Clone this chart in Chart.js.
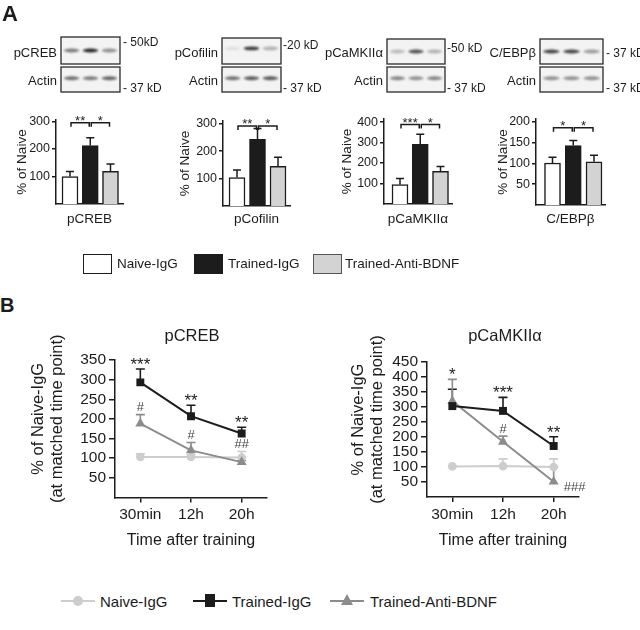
<!DOCTYPE html>
<html>
<head>
<meta charset="utf-8">
<script src="https://cdn.jsdelivr.net/npm/chart.js@4.4.0/dist/chart.umd.min.js"></script>
<style>
body{margin:0;background:#fff;}
#fig{position:relative;width:640px;height:630px;overflow:hidden;font-family:"Liberation Sans",Arial,sans-serif;color:#1c1c1c;}
.t{position:absolute;white-space:nowrap;line-height:1;}
canvas{position:absolute;}
.box{position:absolute;width:27px;height:18px;border:1.5px solid #1c1c1c;}
</style>
</head>
<body>
<div id="fig"></div>
<script>
// ---- data ----
const groups = ['Naive-IgG', 'Trained-IgG', 'Trained-Anti-BDNF'];
const proteins = ['pCREB', 'pCofilin', 'pCaMKII\u03b1', 'C/EBP\u03b2'];

const pcrebBar = [100, 212, 119];
const pcrebErr = [18, 29, 26];
const cofilinBar = [104, 243, 145];
const cofilinErr = [27, 40, 33];
const camkBar = [95, 291, 160];
const camkErr = [30, 49, 23];
const cebpBar = [101, 143, 104];
const cebpErr = [14, 12, 16];

const barTicks = [[100, 200, 300], [100, 200, 300], [100, 200, 300, 400], [50, 100, 150, 200]];
const barMax = [305, 310, 415, 207];
const barSig = [['**', '*'], ['**', '*'], ['***', '*'], ['*', '*']];
const bracketAt = [295, 292, 388, 186];

const timePoints = ['30min', '12h', '20h'];
const crebNaive = [103, 103, 102];
const crebNaiveErr = [8, 6, 15];
const crebTrained = [293, 207, 163];
const crebTrainedErr = [34, 28, 16];
const crebAnti = [188, 120, 90];
const crebAntiErr = [23, 20, 4];
const crebStars = ['***', '**', '**'];
const crebHash = ['#', '#', '##'];

const camkNaive = [102, 103, 100];
const camkNaiveErr = [2, 24, 27];
const camkTrained = [303, 287, 170];
const camkTrainedErr = [56, 45, 31];
const camkAnti = [320, 184, 51];
const camkAntiErr = [72, 19, 50];
const camkStars = ['*', '***', '**'];
const camkHash = ['', '#', '###'];

const lineTicksCreb = [50, 100, 150, 200, 250, 300, 350];
const lineTicksCamk = [50, 100, 150, 200, 250, 300, 350, 400, 450];
const lineYTitle = ['% of Naive-IgG', '(at matched time point)'];

// blot band darkness per lane (decoration)
const blotTop = [[0.55, 0.95, 0.45], [0.08, 0.85, 0.3], [0.25, 0.75, 0.3], [0.8, 0.8, 0.4]];
const blotActin = [[0.6, 0.55, 0.65], [0.6, 0.7, 0.7], [0.5, 0.45, 0.5], [0.45, 0.45, 0.45]];

// ---- styling ----
const INK = '#1c1c1c';
const FONT = '"Liberation Sans", Arial, sans-serif';
const barFill = ['#ffffff', '#1c1c1c', '#d3d3d3'];
const lineCol = {naive: '#cdcdcd', trained: '#1c1c1c', anti: '#8c8c8c'};
const fig = document.getElementById('fig');

function txt(s, x, y, size, opt) {
  opt = opt || {};
  const d = document.createElement('div');
  d.className = 't';
  d.textContent = s;
  d.style.fontSize = size + 'px';
  d.style.top = (y - size / 2) + 'px';
  if (opt.bold) d.style.fontWeight = 'bold';
  if (opt.color) d.style.color = opt.color;
  if (opt.align === 'right') { d.style.right = (640 - x) + 'px'; }
  else if (opt.align === 'center') { d.style.left = x + 'px'; d.style.transform = 'translateX(-50%)'; }
  else d.style.left = x + 'px';
  fig.appendChild(d);
  return d;
}

function addCanvas(x, y, w, h) {
  const c = document.createElement('canvas');
  c.width = w; c.height = h;
  c.style.left = x + 'px'; c.style.top = y + 'px';
  c.style.width = w + 'px'; c.style.height = h + 'px';
  fig.appendChild(c);
  return c;
}

// ---- western blot strips ----
function blot(x, y, w, h, lanes, bandY) {
  const c = addCanvas(x - 2, y - 2, w + 4, h + 4);
  const ctx = c.getContext('2d');
  ctx.fillStyle = '#f3f3f3';
  ctx.fillRect(2, 2, w, h);
  ctx.filter = 'blur(1px)';
  lanes.forEach((k, i) => {
    const cx = 2 + w * (0.18 + 0.32 * i);
    ctx.fillStyle = 'rgba(25,25,25,' + k + ')';
    ctx.beginPath();
    ctx.ellipse(cx, 2 + h * bandY, w * 0.13, 1.9, 0, 0, Math.PI * 2);
    ctx.fill();
  });
  ctx.filter = 'none';
  ctx.strokeStyle = '#2a2a2a';
  ctx.lineWidth = 1.3;
  ctx.strokeRect(2, 2, w, h);
}

const blotPos = [
  {x: 61, w: 59, top: 37, lab: 57, kd1: '- 50kD', kd1y: 42, kdx: 123},
  {x: 222, w: 59, top: 38, lab: 218, kd1: '-20 kD', kd1y: 45, kdx: 283},
  {x: 387, w: 58, top: 39, lab: 383, kd1: '-50 kD', kd1y: 48, kdx: 447},
  {x: 540, w: 63, top: 39, lab: 536, kd1: '- 37 kD', kd1y: 53, kdx: 606}
];
blotPos.forEach((b, i) => {
  blot(b.x, b.top, b.w, 64 - b.top, blotTop[i], i === 1 ? 0.4 : 0.5);
  blot(b.x, 67, b.w, 25, blotActin[i], 0.45);
  txt(proteins[i], b.lab, 52, 13, {align: 'right'});
  txt('Actin', b.lab, 80, 13, {align: 'right'});
  txt(b.kd1, b.kdx, b.kd1y, 12);
  txt('- 37 kD', b.kdx, 88, 12);
});

// ---- panel A bar charts ----
const barLay = [
  {area: [56, 123, 120, 204], c: [70, 110.5], tx: 22},
  {area: [223, 290, 121, 206], c: [237, 278], tx: 185},
  {area: [384, 452, 119, 204], c: [400, 440.5], tx: 347},
  {area: [536, 605, 119, 205], c: [552.5, 594], tx: 503}
];

function barExtras(errs, sig, level) {
  return {
    id: 'barExtras',
    afterDatasetsDraw(chart) {
      const ctx = chart.ctx, y = chart.scales.y;
      const bars = chart.getDatasetMeta(0).data;
      const vals = chart.data.datasets[0].data;
      ctx.save();
      ctx.strokeStyle = INK; ctx.lineWidth = 1.5;
      bars.forEach((b, i) => {
        const t = y.getPixelForValue(vals[i].y);
        const e = y.getPixelForValue(vals[i].y + errs[i]);
        ctx.beginPath();
        ctx.moveTo(b.x, t); ctx.lineTo(b.x, e);
        ctx.moveTo(b.x - 4, e); ctx.lineTo(b.x + 4, e);
        ctx.stroke();
      });
      const ly = y.getPixelForValue(level);
      ctx.font = '13px ' + FONT; ctx.textAlign = 'center'; ctx.fillStyle = INK;
      [[0, 1], [1, 2]].forEach((p, k) => {
        const xa = bars[p[0]].x + 1, xc = bars[p[1]].x - 1;
        ctx.beginPath();
        ctx.moveTo(xa, ly + 4); ctx.lineTo(xa, ly); ctx.lineTo(xc, ly); ctx.lineTo(xc, ly + 4);
        ctx.stroke();
        ctx.fillText(sig[k], (xa + xc) / 2, ly + 2);
      });
      ctx.restore();
    }
  };
}

function makeBar(i, vals, errs) {
  const L = barLay[i];
  const [al, ar, at, ab] = L.area;
  const cl = al - 56, ct = 100, cw = ar + 15 - cl, ch = 132;
  const cv = addCanvas(cl, ct, cw, ch);
  const sp = (L.c[1] - L.c[0]) / 2;
  const xmin = -(L.c[0] - al) / sp, xmax = xmin + (ar - al) / sp;
  const ticks = barTicks[i];
  new Chart(cv, {
    type: 'bar',
    data: {
      datasets: [{
        data: vals.map((v, k) => ({x: k, y: v})),
        backgroundColor: barFill, borderColor: INK, borderWidth: 1.5,
        barThickness: 16, borderSkipped: 'start'
      }]
    },
    options: {
      responsive: false, animation: false,
      layout: {padding: {top: at - ct, right: cl + cw - ar, left: 0, bottom: 0}},
      plugins: {legend: {display: false}, tooltip: {enabled: false}},
      scales: {
        x: {
          type: 'linear', min: xmin, max: xmax, offset: false,
          ticks: {display: false}, grid: {display: false},
          border: {display: true, color: INK, width: 1.5},
          title: {display: true, text: proteins[i], color: INK, font: {size: 13.5, family: FONT}, padding: {top: 0, bottom: 5}},
          afterFit: s => { s.height = ct + ch - ab; }
        },
        y: {
          min: 0, max: barMax[i],
          afterBuildTicks: s => { s.ticks = ticks.map(v => ({value: v})); },
          ticks: {color: INK, font: {size: 12.5, family: FONT}, padding: 2, autoSkip: false},
          grid: {drawOnChartArea: false, drawTicks: true, tickLength: 4, color: INK, lineWidth: 1.5},
          border: {display: true, color: INK, width: 1.5},
          title: {display: true, text: '% of Naive', color: INK, font: {size: 13.5, family: FONT}, padding: {top: L.tx - cl - 8, bottom: 0}},
          afterFit: s => { s.width = 56; }
        }
      }
    },
    plugins: [barExtras(errs, barSig[i], bracketAt[i])]
  });
}

makeBar(0, pcrebBar, pcrebErr);
makeBar(1, cofilinBar, cofilinErr);
makeBar(2, camkBar, camkErr);
makeBar(3, cebpBar, cebpErr);

// ---- panel A legend ----
const legA = [{x: 83, tx: 117}, {x: 194, tx: 228}, {x: 313, tx: 345}];
legA.forEach((l, i) => {
  const b = document.createElement('div');
  b.className = 'box';
  b.style.left = l.x + 'px'; b.style.top = '254px';
  b.style.background = barFill[i];
  if (i === 2) b.style.borderColor = '#555';
  fig.appendChild(b);
  txt(groups[i], l.tx, 264, 13.5);
});

txt('A', 2, 14, 22, {bold: true});
txt('B', 0, 305, 20, {bold: true});

// ---- panel B line charts ----
function lineExtras(errs, stars, hash, hashBeside, titleX) {
  return {
    id: 'lineExtras',
    beforeDatasetsDraw(chart) {
      const ctx = chart.ctx, y = chart.scales.y;
      ctx.save();
      ctx.lineWidth = 1.6;
      chart.data.datasets.forEach((d, k) => {
        const pts = chart.getDatasetMeta(k).data;
        ctx.strokeStyle = d.borderColor;
        pts.forEach((p, i) => {
          const e = y.getPixelForValue(d.data[i].y + errs[k][i]);
          ctx.beginPath();
          ctx.moveTo(p.x, p.y); ctx.lineTo(p.x, e);
          ctx.moveTo(p.x - 4.5, e); ctx.lineTo(p.x + 4.5, e);
          ctx.stroke();
        });
      });
      ctx.restore();
    },
    afterDatasetsDraw(chart) {
      const ctx = chart.ctx, y = chart.scales.y, x = chart.scales.x;
      const ds = chart.data.datasets;
      ctx.save();
      ctx.textAlign = 'center';
      timePoints.forEach((t, i) => {
        const px = x.getPixelForValue(i);
        let top = Infinity;
        ds.forEach((d, k) => { top = Math.min(top, y.getPixelForValue(d.data[i].y + errs[k][i])); });
        ctx.fillStyle = INK;
        ctx.font = '17px ' + FONT;
        ctx.fillText(stars[i], px, top - 9 + 10);
        if (!hash[i]) return;
        ctx.fillStyle = '#4a4a4a';
        ctx.font = '13px ' + FONT;
        if (hashBeside[i]) {
          const ap = chart.getDatasetMeta(1).data[i];
          ctx.textAlign = 'left';
          ctx.fillText(hash[i], ap.x + 10, ap.y + 9);
          ctx.textAlign = 'center';
        } else {
          let ht = Infinity;
          [1, 2].forEach(k => { ht = Math.min(ht, y.getPixelForValue(ds[k].data[i].y + errs[k][i])); });
          ctx.fillText(hash[i], px, ht - 8 + 4.5);
        }
      });
      // two-line y title, centred a little above the plot middle as in the figure
      const cy = (chart.chartArea.top + chart.chartArea.bottom) / 2 - 10;
      ctx.fillStyle = INK;
      ctx.font = '16.5px ' + FONT;
      ctx.textBaseline = 'middle';
      lineYTitle.forEach((s, k) => {
        ctx.save();
        ctx.translate(titleX + k * 19, cy);
        ctx.rotate(-Math.PI / 2);
        ctx.fillText(s, 0, 0);
        ctx.restore();
      });
      ctx.restore();
    }
  };
}

function series(vals, col, style, r) {
  return {
    data: vals.map((v, i) => ({x: i, y: v})),
    borderColor: col, backgroundColor: col, borderWidth: 2,
    pointStyle: style, pointRadius: r, pointBorderWidth: 0, tension: 0
  };
}

function makeLine(lay, title, trained, anti, naive, errs, ticks, yMax, stars, hash, hashBeside) {
  const cv = addCanvas(lay.left, 320, 300, 240);
  const [al, ar, at, ab] = lay.area;
  txt(title, lay.titleX, 335, 16.5, {align: 'center'});
  new Chart(cv, {
    type: 'line',
    data: {
      datasets: [
        series(trained, lineCol.trained, 'rect', 5.6),
        series(anti, lineCol.anti, 'triangle', 5.8),
        series(naive, lineCol.naive, 'circle', 4.3)
      ]
    },
    options: {
      responsive: false, animation: false,
      layout: {padding: {top: at - 320, right: lay.left + 300 - ar, left: 0, bottom: 0}},
      plugins: {legend: {display: false}, tooltip: {enabled: false}},
      scales: {
        x: {
          type: 'linear', min: -0.5, max: 2.5,
          afterBuildTicks: s => { s.ticks = timePoints.map((t, i) => ({value: i})); },
          ticks: {color: INK, font: {size: 15.5, family: FONT}, padding: 3, autoSkip: false, maxRotation: 0, callback: v => timePoints[v]},
          grid: {drawOnChartArea: false, drawTicks: true, tickLength: 5, color: INK, lineWidth: 1.5},
          border: {display: true, color: INK, width: 1.5},
          title: {display: true, text: 'Time after training', color: INK, font: {size: 16, family: FONT}, padding: {top: 0, bottom: 10}},
          afterFit: s => { s.height = 560 - ab; }
        },
        y: {
          min: 0, max: yMax,
          afterBuildTicks: s => { s.ticks = ticks.map(v => ({value: v})); },
          ticks: {color: INK, font: {size: 15.5, family: FONT}, padding: 3, autoSkip: false},
          grid: {drawOnChartArea: false, drawTicks: true, tickLength: 6, color: INK, lineWidth: 1.5},
          border: {display: true, color: INK, width: 1.5},
          title: {display: false},
          afterFit: s => { s.width = al - lay.left; }
        }
      }
    },
    plugins: [lineExtras(errs, stars, hash, hashBeside, 38)]
  });
}

makeLine({left: 0, area: [115, 267, 360, 497.5], titleX: 192}, 'pCREB',
  crebTrained, crebAnti, crebNaive, [crebTrainedErr, crebAntiErr, crebNaiveErr],
  lineTicksCreb, 350, crebStars, crebHash, [false, false, false]);
makeLine({left: 320, area: [427, 579, 362, 497], titleX: 505}, 'pCaMKII\u03b1',
  camkTrained, camkAnti, camkNaive, [camkTrainedErr, camkAntiErr, camkNaiveErr],
  lineTicksCamk, 450, camkStars, camkHash, [false, false, true]);

// ---- panel B legend ----
function legLine(x, col, marker) {
  const l = document.createElement('div');
  l.style.cssText = 'position:absolute;left:' + x + 'px;top:600px;width:34px;height:2px;background:' + col;
  fig.appendChild(l);
  const m = document.createElement('div');
  m.style.position = 'absolute';
  if (marker === 'circle') {
    m.style.cssText += 'left:' + (x + 12) + 'px;top:596px;width:10px;height:10px;border-radius:50%;background:' + col;
  } else if (marker === 'rect') {
    m.style.cssText += 'left:' + (x + 12) + 'px;top:594px;width:10px;height:13px;background:' + col;
  } else {
    m.style.cssText += 'left:' + (x + 11) + 'px;top:594px;width:0;height:0;border-left:6px solid transparent;border-right:6px solid transparent;border-bottom:11px solid ' + col;
  }
  fig.appendChild(m);
}
legLine(61, lineCol.naive, 'circle');
txt(groups[0], 100, 601, 15);
legLine(193, lineCol.trained, 'rect');
txt(groups[1], 232, 601, 15);
legLine(330, lineCol.anti, 'triangle');
txt(groups[2], 370, 601, 15);
</script>
</body>
</html>
